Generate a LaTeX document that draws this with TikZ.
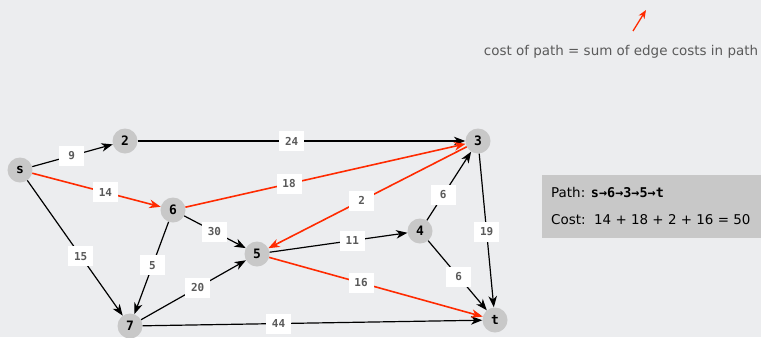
\documentclass[tikz,border=0pt]{standalone}
\usepackage{fontspec}
\setmainfont{DejaVu Sans}
\setmonofont{DejaVu Sans Mono}
\usetikzlibrary{arrows.meta}

\definecolor{bgc}{HTML}{ECEDEF}
\definecolor{vtx}{HTML}{C8C8C8}
\definecolor{hot}{HTML}{FF2A00}
\definecolor{txt}{HTML}{5A5A5A}

\begin{document}
\begin{tikzpicture}[x=1bp, y=-1bp,
  v/.style={circle, fill=vtx, inner sep=0pt, minimum size=25bp,
    font=\ttfamily\bfseries\fontsize{13}{13}\selectfont},
  e/.style={-{Stealth[length=4mm, width=3mm, inset=1.2mm]}, line width=1.2pt},
  hp/.style={e, draw=hot, line width=1.6pt},
  w/.style={fill=white, inner sep=0pt, minimum width=25bp, minimum height=20bp,
    text=txt, font=\ttfamily\bfseries\fontsize{11}{11}\selectfont}]
\fill[bgc] (0,0) rectangle (761,337);
\useasboundingbox (0,0) rectangle (761,337);

% vertices
\node[v] (s) at (20,170) {s};
\node[v] (n2) at (125,141) {2};
\node[v] (n3) at (478,141) {3};
\node[v] (n6) at (173,210) {6};
\node[v] (n5) at (257,254) {5};
\node[v] (n4) at (420,231) {4};
\node[v] (n7) at (130,326) {7};
\node[v] (t) at (495,320) {t};

% edges
\draw[e] (s) -- node[w, pos=0.49] {9} (n2);
\draw[e] (s) -- node[w, pos=0.56] {15} (n7);
\draw[e] (n2) -- node[w, pos=0.47] {24} (n3);
\draw[e] (n6) -- node[w, pos=0.49] {30} (n5);
\draw[e] (n6) -- node[w, pos=0.47] {5} (n7);
\draw[e] (n7) -- node[w, pos=0.54] {20} (n5);
\draw[e] (n5) -- node[w, pos=0.6] {11} (n4);
\draw[e] (n4) -- node[w, pos=0.37] {6} (n3);
\draw[e] (n4) -- node[w, pos=0.52] {6} (t);
\draw[e] (n3) -- node[w, pos=0.51] {19} (t);
\draw[e] (n7) -- node[w, pos=0.40] {44} (t);

% shortest path
\draw[hp] (s) -- node[w, pos=0.57] {14} (n6);
\draw[hp] (n6) -- node[w, pos=0.37] {18} (n3);
\draw[hp] (n3) -- node[w, pos=0.53] {2} (n5);
\draw[hp] (n5) -- node[w, pos=0.43] {16} (t);

% note
\coordinate (tail) at (633,31);
\coordinate (tip) at (646,10);
\draw[-{Stealth[length=3mm, width=2.4mm, inset=0.9mm]}, draw=hot, line width=1.3pt] (tail) -- (tip);
\node[text=txt, font=\fontsize{13.5}{16}\selectfont] (note) at (621,52)
  {cost of path = sum of edge costs in path};

\fill[vtx] (542,175) rectangle (761,238);
\node[anchor=west, inner sep=0pt, font=\fontsize{13.5}{16}\selectfont] (path) at (551,192)
  {Path: {\ttfamily\bfseries s→6→3→5→t}};
\node[anchor=west, inner sep=0pt, font=\fontsize{13.5}{16}\selectfont] (cost) at (551,220)
  {Cost:\ \ 14 + 18 + 2 + 16 = 50};
\end{tikzpicture}
\end{document}
